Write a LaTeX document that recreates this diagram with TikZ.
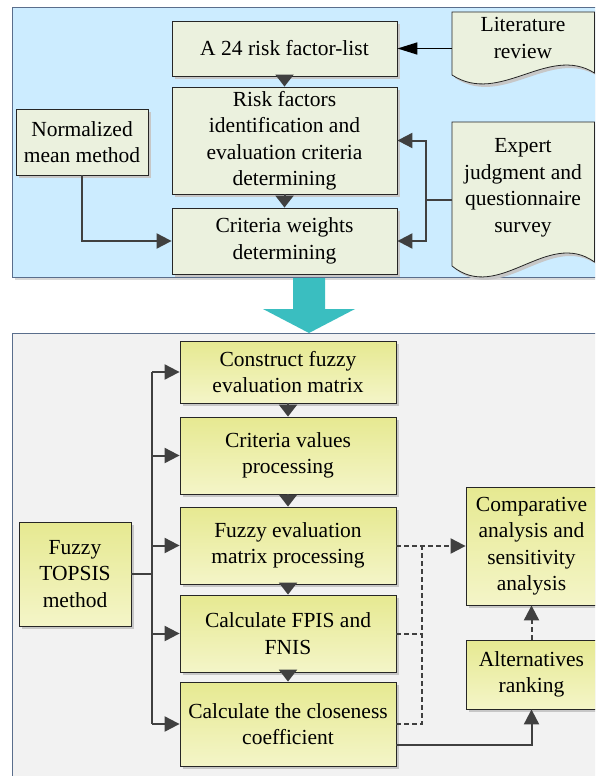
\documentclass[tikz,border=0pt]{standalone}
\usepackage{fontspec}
\setmainfont{Liberation Serif}
\usetikzlibrary{arrows.meta,shadows}
\definecolor{panelblue}{RGB}{204,236,255}
\definecolor{panelgrey}{RGB}{242,242,242}
\definecolor{paneledge}{RGB}{90,110,140}
\definecolor{boxpale}{RGB}{235,241,222}
\definecolor{yelltop}{RGB}{230,233,145}
\definecolor{yellbot}{RGB}{244,245,200}
\definecolor{conn}{RGB}{64,64,64}
\definecolor{bigarrow}{RGB}{58,190,192}
\tikzset{
  txt/.style={font=\fontsize{21.5}{26.5}\selectfont, align=center},
  palebox/.style={txt, draw=black!85, line width=0.8pt, fill=boxpale, inner sep=0pt,
    drop shadow={shadow xshift=3pt, shadow yshift=-3pt, fill=black!22, opacity=1}},
  yellbox/.style={txt, draw=black!85, line width=0.8pt, top color=yelltop, bottom color=yellbot, inner sep=0pt,
    drop shadow={shadow xshift=3pt, shadow yshift=-3pt, fill=black!22, opacity=1}},
  arr/.style={draw=conn, line width=2pt, -{Triangle[width=15pt,length=15pt]}},
  stackarr/.style={draw=conn, line width=2pt, -{Triangle[width=18pt,length=12pt]}},
  dasharr/.style={draw=conn, line width=2pt, dash pattern=on 5pt off 3pt},
  litarr/.style={draw=black, line width=1.5pt, -{Triangle[width=12pt,length=20pt]}},
  panel/.style={draw=paneledge, line width=0.8pt}
}
\begin{document}
\begin{tikzpicture}[x=1pt,y=-1pt]
\clip (0,0) rectangle (595,776);
\fill[white] (0,0) rectangle (595,776);
% panels
\fill[black!15] (15,10) rectangle (600,280);
\draw[panel, fill=panelblue] (12,7) rectangle (600,277);
\draw[panel, fill=panelgrey] (12,333) rectangle (600,790);

% top boxes
\node[palebox, minimum width=225pt, minimum height=55pt] (list) at (284.5,48.5) {A 24 risk factor-list};
\node[palebox, minimum width=225pt, minimum height=107pt] (riskid) at (284.5,140.5) {Risk factors\\identification and\\evaluation criteria\\determining};
\node[palebox, minimum width=225pt, minimum height=66pt] (weights) at (284.5,241) {Criteria weights\\determining};
\node[palebox, minimum width=132pt, minimum height=66pt] (norm) at (82,142) {Normalized\\mean method};

% document shapes
\fill[black!22] (455,15) -- (597.5,15) -- (597.5,76) .. controls (551,47) and (503,109) .. (455,78) -- cycle;
\draw[black!85, line width=0.8pt, fill=boxpale] (452,12) -- (594.5,12) -- (594.5,73) .. controls (548,44) and (500,106) .. (452,75) -- cycle;
\node[txt] (lit) at (523,38) {Literature\\review};
\coordinate (litw) at (452,48.5);

\fill[black!22] (455,125) -- (597.5,125) -- (597.5,265) .. controls (550,231) and (502,307) .. (455,269) -- cycle;
\draw[black!85, line width=0.8pt, fill=boxpale] (452,122) -- (594.5,122) -- (594.5,262) .. controls (547,228) and (499,304) .. (452,266) -- cycle;
\node[txt] (expert) at (523,188) {Expert\\judgment and\\questionnaire\\survey};
\coordinate (expw) at (452,200);
\coordinate (expj) at (426,200);

% top connectors
\draw[litarr] (litw) -- (list.east);
\draw[conn, line width=2pt] (expw) -- (expj);
\draw[arr] (expj) |- (riskid.east);
\draw[arr] (expj) |- (weights.east);
\draw[arr] (norm.south) |- (weights.west);
\draw[stackarr] (list.south) -- (riskid.north);
\draw[stackarr] (riskid.south) -- (weights.north);

% big arrow
\fill[bigarrow] (293,278) -- (325,278) -- (325,309) -- (355,309) -- (309,333) -- (263,309) -- (293,309) -- cycle;

% bottom boxes
\node[yellbox, minimum width=216pt, minimum height=62pt] (c1) at (288,372) {Construct fuzzy\\evaluation matrix};
\node[yellbox, minimum width=216pt, minimum height=77pt] (c2) at (288,455.5) {Criteria values\\processing};
\node[yellbox, minimum width=216pt, minimum height=77pt] (c3) at (288,545.5) {Fuzzy evaluation\\matrix processing};
\node[yellbox, minimum width=216pt, minimum height=77pt] (c4) at (288,633.5) {Calculate FPIS and\\FNIS};
\node[yellbox, minimum width=216pt, minimum height=84pt] (c5) at (288,724) {Calculate the closeness\\coefficient};
\node[yellbox, minimum width=112pt, minimum height=104pt] (topsis) at (75,574) {Fuzzy\\TOPSIS\\method};
\node[yellbox, minimum width=131pt, minimum height=118pt] (comp) at (531.5,546) {Comparative\\analysis and\\sensitivity\\analysis};
\node[yellbox, minimum width=131pt, minimum height=69pt] (alt) at (531.5,674.5) {Alternatives\\ranking};

% bottom connectors
\coordinate (bj) at (152,574);
\coordinate (btop) at (152,372);
\coordinate (bbot) at (152,724);
\draw[conn, line width=2pt] (topsis.east |- bj) -- (bj);
\draw[conn, line width=2pt] (btop) -- (bbot);
\draw[arr] (btop) -- (c1.west);
\draw[arr] (bj |- c2.west) -- (c2.west);
\draw[arr] (bj |- c3.west) -- (c3.west);
\draw[arr] (bj |- c4.west) -- (c4.west);
\draw[arr] (bbot) -- (c5.west);
\draw[stackarr] (c1.south) -- (c2.north);
\draw[stackarr] (c2.south) -- (c3.north);
\draw[stackarr] (c3.south) -- (c4.north);
\draw[stackarr] (c4.south) -- (c5.north);

\coordinate (dj) at (422,546);
\coordinate (dj4) at (422,633.5);
\draw[dasharr, -{Triangle[width=15pt,length=15pt]}] (c3.east |- dj) -- (comp.west |- dj);
\draw[dasharr] (c4.east) -- (dj4);
\draw[dasharr] (c5.east) -| (dj);
\draw[dasharr, -{Triangle[width=15pt,length=15pt]}] (alt.north) -- (comp.south);
\coordinate (c5out) at (396,745);
\draw[arr] (c5out) -| (alt.south);
\end{tikzpicture}
\end{document}
